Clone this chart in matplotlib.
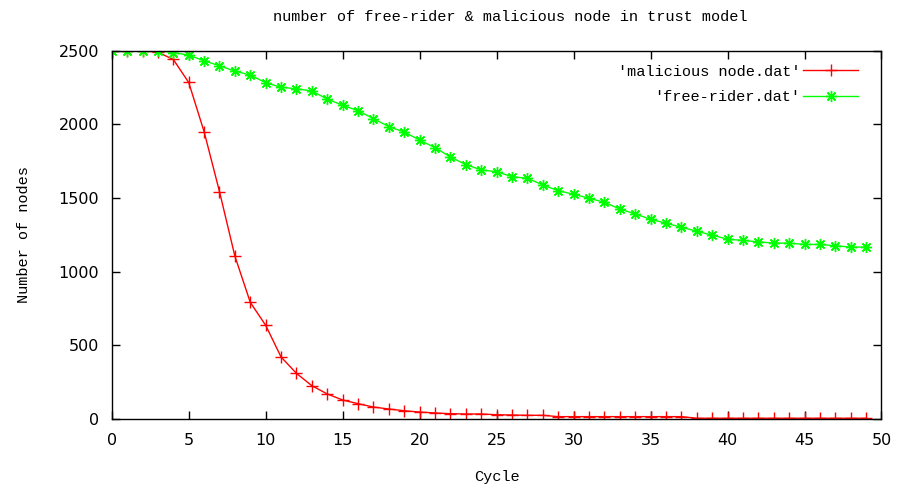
import numpy as np
import matplotlib
matplotlib.use("Agg")
import matplotlib.pyplot as plt

# data
cycle = list(range(50))
malicious = [2500, 2500, 2500, 2490, 2441, 2285, 1951, 1544, 1106, 792,
             636, 421, 310, 226, 170, 129, 104, 81, 68, 56,
             47, 41, 36, 34, 34, 29, 27, 25, 25, 16,
             16, 16, 16, 16, 16, 16, 16, 16, 5, 5,
             5, 5, 5, 5, 5, 5, 5, 5, 5, 5]
free_rider = [2500, 2500, 2500, 2500, 2488, 2470, 2432, 2398, 2362, 2335,
              2283, 2252, 2242, 2227, 2172, 2130, 2093, 2039, 1985, 1948,
              1894, 1842, 1779, 1727, 1691, 1679, 1645, 1634, 1589, 1550,
              1526, 1499, 1471, 1426, 1392, 1356, 1329, 1302, 1275, 1248,
              1221, 1212, 1203, 1194, 1194, 1185, 1185, 1176, 1167, 1167]

MONO = "Liberation Mono"

fig = plt.figure(figsize=(8.98, 4.88), dpi=100)
ax = fig.add_axes([0.1244, 0.1414, 0.9816 - 0.1244, 0.896 - 0.1414])

ax.plot(cycle, malicious, color="#ff0000", lw=1.0, marker="+", ms=8, mew=1.0,
        label="'malicious node.dat'")
ax.plot(cycle, free_rider, color="#00ff00", lw=1.0, marker=(8, 2, 0), ms=8, mew=1.0,
        label="'free-rider.dat'")

ax.set_xlim(0, 50)
ax.set_ylim(0, 2500)
ax.set_xticks(np.arange(0, 51, 5))
ax.set_yticks(np.arange(0, 2501, 500))
ax.tick_params(direction="in", top=True, right=True, length=6, width=1,
               labelsize=11.5, colors="black")
ax.tick_params(axis="x", pad=10)
ax.tick_params(axis="y", pad=9)
for s in ax.spines.values():
    s.set_linewidth(1.0)

ax.set_xlabel("Cycle", family=MONO, fontsize=11, labelpad=16)
ax.set_ylabel("Number of nodes", family=MONO, fontsize=11, labelpad=20)
fig.text(0.568, 0.965, "number of free-rider & malicious node in trust model",
         family=MONO, fontsize=11, ha="center", va="center")

leg = ax.legend(loc="upper right", frameon=False, markerfirst=False,
                prop={"family": MONO, "size": 11}, handlelength=3.6,
                handletextpad=0.2, borderaxespad=0.5, labelspacing=0.75,
                bbox_to_anchor=(0.988, 1.0))
for t in leg.get_texts():
    t.set_ha("right")

fig.savefig("out.png", dpi=100)
